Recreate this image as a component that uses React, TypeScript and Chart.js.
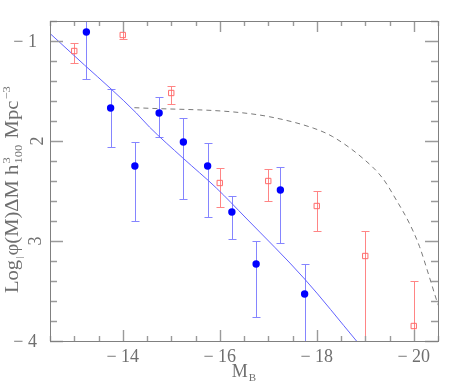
import React, { useEffect, useRef } from "react";
import { Chart, registerables } from "chart.js";

Chart.register(...registerables);

// Blue filled circles (sample 1)
const blueMag = [-13.25, -13.75, -14.25, -14.75, -15.25, -15.75, -16.25, -16.75, -17.25, -17.75];
const blueLogPhi = [-0.91, -1.67, -2.25, -1.72, -2.01, -2.25, -2.71, -3.23, -2.49, -3.53];
const blueErrHigh = [-0.45, -1.48, -2.01, -1.56, -1.77, -2.02, -2.55, -3.0, -2.26, -3.23];
const blueErrLow = [-1.38, -2.06, -2.8, -1.96, -2.58, -2.76, -2.98, -3.76, -3.02, -4.3];

// Red open squares (sample 2)
const redMag = [-13, -14, -15, -16, -17, -18, -19, -20];
const redLogPhi = [-1.1, -0.94, -1.52, -2.42, -2.4, -2.65, -3.15, -3.85];
const redErrHigh = [-1.02, -0.5, -1.45, -2.27, -2.28, -2.5, -2.9, -3.4];
const redErrLow = [-1.22, -0.98, -1.63, -2.66, -2.6, -2.9, -4.5, -4.5];

// Solid blue fit curve
const fitMag = [-12.49, -13.21, -13.76, -14.28, -14.55, -15.24, -15.93, -16.54, -17.75, -18.82];
const fitLogPhi = [-0.92, -1.24, -1.48, -1.72, -1.86, -2.17, -2.47, -2.77, -3.38, -4.0];

// Dashed reference curve
const refMag = [-14.24, -14.55, -16.22, -17.02, -17.94, -18.33, -18.95, -19.36, -19.64, -19.91, -20.12, -20.32, -20.47, -20.52];
const refLogPhi = [-1.667, -1.673, -1.707, -1.757, -1.873, -1.957, -2.173, -2.373, -2.59, -2.823, -3.057, -3.357, -3.59, -3.66];

const xTickValues = [-14, -16, -18, -20];
const xTickLabels = ["− 14", "− 16", "− 18", "− 20"];
const yTickValues = [-1, -2, -3, -4];
const yTickLabels = ["− 1", "2", "3", "− 4"];

const X_MIN = -20.5;
const X_MAX = -12.5;
const Y_MIN = -4;
const Y_MAX = -0.8;

const FONT = "'Liberation Serif', 'DejaVu Serif', serif";
const TEXT = "#6f6f6f";

function drawErrorBars(chart: any, mags: number[], hi: number[], lo: number[], color: string) {
  const ctx = chart.ctx;
  const xs = chart.scales.x;
  const ys = chart.scales.y;
  const a = chart.chartArea;
  ctx.save();
  ctx.beginPath();
  ctx.rect(a.left, a.top, a.right - a.left, a.bottom - a.top);
  ctx.clip();
  ctx.strokeStyle = color;
  ctx.lineWidth = 1;
  for (let i = 0; i < mags.length; i++) {
    const px = Math.round(xs.getPixelForValue(mags[i])) + 0.5;
    const ph = Math.round(ys.getPixelForValue(hi[i])) + 0.5;
    const pl = Math.round(ys.getPixelForValue(lo[i])) + 0.5;
    ctx.beginPath();
    ctx.moveTo(px, ph);
    ctx.lineTo(px, pl);
    ctx.moveTo(px - 4, ph);
    ctx.lineTo(px + 4, ph);
    ctx.moveTo(px - 4, pl);
    ctx.lineTo(px + 4, pl);
    ctx.stroke();
  }
  ctx.restore();
}

const decorPlugin = {
  id: "decor",
  beforeDatasetsDraw(chart: any) {
    drawErrorBars(chart, blueMag, blueErrHigh, blueErrLow, "#8585ff");
    drawErrorBars(chart, redMag, redErrHigh, redErrLow, "#ff8585");
  },
  afterDraw(chart: any) {
    const ctx = chart.ctx;
    const xs = chart.scales.x;
    const ys = chart.scales.y;
    const a = chart.chartArea;
    ctx.save();
    // ticks
    ctx.strokeStyle = "#9a9a9a";
    ctx.lineWidth = 1.4;
    for (let v = X_MAX; v >= X_MIN - 1e-9; v -= 0.5) {
      const major = Math.abs(v / 2 - Math.round(v / 2)) < 1e-6;
      const len = major ? 11 : 5;
      const px = Math.round(xs.getPixelForValue(v)) + 0.5;
      ctx.beginPath();
      ctx.moveTo(px, a.bottom);
      ctx.lineTo(px, a.bottom - len);
      ctx.moveTo(px, a.top);
      ctx.lineTo(px, a.top + len);
      ctx.stroke();
    }
    for (let k = 0; k <= 16; k++) {
      const v = Y_MIN + k * 0.2;
      const major = Math.abs(v - Math.round(v)) < 1e-6;
      const len = major ? 13 : 7;
      const py = Math.round(ys.getPixelForValue(v)) + 0.5;
      ctx.beginPath();
      ctx.moveTo(a.left, py);
      ctx.lineTo(a.left + len, py);
      ctx.moveTo(a.right, py);
      ctx.lineTo(a.right - len, py);
      ctx.stroke();
    }
    // frame
    ctx.strokeStyle = "#808080";
    ctx.lineWidth = 1;
    ctx.strokeRect(Math.round(a.left) + 0.5, Math.round(a.top) + 0.5, Math.round(a.right - a.left), Math.round(a.bottom - a.top));

    // x tick labels
    ctx.fillStyle = TEXT;
    ctx.font = `18px ${FONT}`;
    ctx.textAlign = "center";
    ctx.textBaseline = "alphabetic";
    xTickValues.forEach((v, i) => {
      ctx.fillText(xTickLabels[i], xs.getPixelForValue(v), 362);
    });
    // y tick labels
    yTickValues.forEach((v, i) => {
      const py = ys.getPixelForValue(v);
      const lab = yTickLabels[i];
      if (lab.startsWith("−")) {
        ctx.textAlign = "right";
        ctx.textBaseline = "middle";
        ctx.fillText(lab, 37, py + 1);
      } else {
        ctx.save();
        ctx.translate(i === 1 ? 38 : 36, py);
        ctx.rotate(-Math.PI / 2);
        ctx.textAlign = "center";
        ctx.textBaseline = "middle";
        ctx.fillText(lab, 0, 0);
        ctx.restore();
      }
    });

    // x axis title M_B
    ctx.textBaseline = "alphabetic";
    ctx.textAlign = "left";
    ctx.font = `18px ${FONT}`;
    const mW = ctx.measureText("M").width;
    ctx.font = `11px ${FONT}`;
    const bW = ctx.measureText("B").width;
    const startX = 244 - (mW + bW + 1) / 2;
    ctx.font = `18px ${FONT}`;
    ctx.fillText("M", startX, 377);
    ctx.font = `11px ${FONT}`;
    ctx.fillText("B", startX + mW + 1, 381);

    // y axis title (rotated), pieces: [text, size, dy, advance]
    const pieces: [string, number, number, boolean][] = [
      ["Log", 18, 0, true],
      ["|", 9, 4, true],
      ["φ(M)ΔM h", 18, 0, true],
      ["3", 11, -8, false],
      ["100", 11, 4, true],
      [" Mpc", 18, 0, true],
      ["−3", 11, -8, true],
    ];
    let total = 0;
    const widths: number[] = [];
    pieces.forEach((p) => {
      ctx.font = `${p[1]}px ${FONT}`;
      const w = ctx.measureText(p[0]).width;
      widths.push(w);
      if (p[3]) total += w + 1;
    });
    const target = 208;
    const sx = target / total;
    ctx.save();
    ctx.translate(18, 293);
    ctx.rotate(-Math.PI / 2);
    ctx.scale(sx, 1);
    let cx = 0;
    pieces.forEach((p, i) => {
      ctx.font = `${p[1]}px ${FONT}`;
      ctx.fillText(p[0], cx, p[2]);
      if (p[3]) cx += widths[i] + 1;
    });
    ctx.restore();
    ctx.restore();
  },
};

export default function App() {
  const ref = useRef<HTMLCanvasElement | null>(null);
  useEffect(() => {
    if (!ref.current) return;
    const chart = new Chart(ref.current, {
      type: "scatter",
      data: {
        datasets: [
          {
            label: "sample 1",
            data: blueMag.map((m, i) => ({ x: m, y: blueLogPhi[i] })),
            pointStyle: "circle",
            pointRadius: 3.7,
            backgroundColor: "#0000ff",
            borderColor: "#0000ff",
            borderWidth: 0,
          },
          {
            label: "sample 2",
            data: redMag.map((m, i) => ({ x: m, y: redLogPhi[i] })),
            pointStyle: "rect",
            pointRadius: 3.8,
            backgroundColor: "rgba(0,0,0,0)",
            borderColor: "#ff6a6a",
            borderWidth: 1,
          },
          {
            type: "line",
            label: "fit",
            data: fitMag.map((m, i) => ({ x: m, y: fitLogPhi[i] })),
            borderColor: "#6262ff",
            borderWidth: 1,
            pointRadius: 0,
            tension: 0.3,
            cubicInterpolationMode: "monotone",
            fill: false,
          } as any,
          {
            type: "line",
            label: "reference",
            data: refMag.map((m, i) => ({ x: m, y: refLogPhi[i] })),
            borderColor: "#7a7a7a",
            borderWidth: 1,
            borderDash: [5, 4],
            pointRadius: 0,
            cubicInterpolationMode: "monotone",
            fill: false,
          } as any,
        ],
      },
      options: {
        animation: false,
        responsive: false,
        devicePixelRatio: 1,
        layout: { padding: { left: 50, top: 21, right: 25, bottom: 41 } },
        plugins: { legend: { display: false }, tooltip: { enabled: false } },
        scales: {
          x: { type: "linear", min: X_MIN, max: X_MAX, reverse: true, display: false },
          y: { type: "linear", min: Y_MIN, max: Y_MAX, display: false },
        },
      },
      plugins: [decorPlugin],
    });
    return () => chart.destroy();
  }, []);
  return (
    <div style={{ position: "fixed", left: 0, top: 0, width: 463, height: 382, background: "#fff" }}>
      <canvas ref={ref} width={463} height={382} style={{ width: 463, height: 382, display: "block" }} />
    </div>
  );
}
